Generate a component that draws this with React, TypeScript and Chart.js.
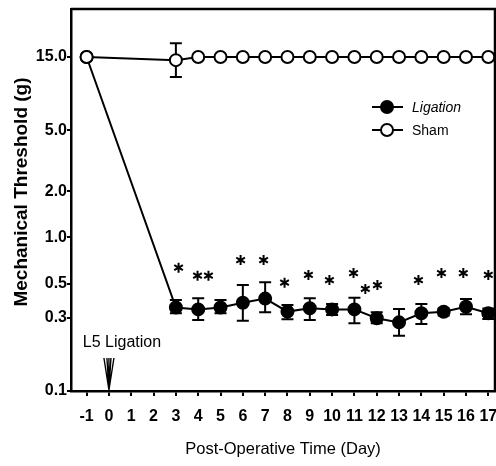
import React, { useEffect, useRef } from 'react';
import { Chart, registerables } from 'chart.js';
Chart.register(...registerables);

// ---- data ----
const days = [-1, 3, 4, 5, 6, 7, 8, 9, 10, 11, 12, 13, 14, 15, 16, 17];
const ligationMean = [15, 0.35, 0.34, 0.35, 0.376, 0.4, 0.329, 0.346, 0.34, 0.34, 0.298, 0.28, 0.321, 0.328, 0.354, 0.321];
const ligationLow = [15, 0.321, 0.29, 0.321, 0.287, 0.326, 0.293, 0.29, 0.313, 0.276, 0.276, 0.229, 0.273, 0.31, 0.316, 0.295];
const ligationHigh = [15, 0.392, 0.402, 0.392, 0.49, 0.511, 0.363, 0.402, 0.369, 0.405, 0.326, 0.342, 0.369, 0.345, 0.398, 0.345];
const shamMean = [15, 14.3, 15, 15, 15, 15, 15, 15, 15, 15, 15, 15, 15, 15, 15, 15];
const shamLow = [15, 11.1, 15, 15, 15, 15, 15, 15, 15, 15, 15, 15, 15, 15, 15, 15];
const shamHigh = [15, 18.4, 15, 15, 15, 15, 15, 15, 15, 15, 15, 15, 15, 15, 15, 15];
const starDays = [3.12, 3.97, 4.46, 5.9, 6.93, 7.87, 8.94, 9.88, 10.96, 11.49, 12.03, 13.87, 14.9, 15.88, 17.0];
const starValues = [0.636, 0.564, 0.564, 0.713, 0.713, 0.508, 0.57, 0.528, 0.587, 0.462, 0.49, 0.528, 0.587, 0.587, 0.57];
const xTicks = [-1, 0, 1, 2, 3, 4, 5, 6, 7, 8, 9, 10, 11, 12, 13, 14, 15, 16, 17];
const yTicks = [0.1, 0.3, 0.5, 1.0, 2.0, 5.0, 15.0];
const ligationDay = 0;
const annotationText = 'L5 Ligation';
const legendLabels = ['Ligation', 'Sham'];
const yTitle = 'Mechanical Threshold (g)';
const xTitle = 'Post-Operative Time (Day)';

const FAMILY = '"Liberation Sans", Arial, sans-serif';

function drawMarker(ctx: CanvasRenderingContext2D, x: number, y: number, filled: boolean) {
  ctx.beginPath();
  ctx.arc(x, y, 6, 0, Math.PI * 2);
  ctx.fillStyle = filled ? '#000' : '#fff';
  ctx.fill();
  ctx.lineWidth = 2;
  ctx.strokeStyle = '#000';
  ctx.stroke();
}

const overlay = {
  id: 'overlay',
  beforeDatasetsDraw(chart: any) {
    const ctx: CanvasRenderingContext2D = chart.ctx;
    const xs = chart.scales.x;
    const ys = chart.scales.y;
    ctx.save();
    ctx.strokeStyle = '#000';
    ctx.lineWidth = 2;
    const bars = (lo: number[], hi: number[]) => {
      for (let i = 0; i < days.length; i++) {
        if (lo[i] === hi[i]) continue;
        const x = xs.getPixelForValue(days[i]);
        const y1 = ys.getPixelForValue(lo[i]);
        const y2 = ys.getPixelForValue(hi[i]);
        ctx.beginPath();
        ctx.moveTo(x, y1); ctx.lineTo(x, y2);
        ctx.moveTo(x - 6, y1); ctx.lineTo(x + 6, y1);
        ctx.moveTo(x - 6, y2); ctx.lineTo(x + 6, y2);
        ctx.stroke();
      }
    };
    bars(ligationLow, ligationHigh);
    bars(shamLow, shamHigh);
    ctx.restore();
  },
  afterDatasetsDraw(chart: any) {
    const ctx: CanvasRenderingContext2D = chart.ctx;
    const xs = chart.scales.x;
    const ys = chart.scales.y;
    const a = chart.chartArea;
    ctx.save();
    // top & right frame
    ctx.strokeStyle = '#000';
    ctx.lineWidth = 2.5;
    ctx.beginPath();
    ctx.moveTo(a.left, a.top);
    ctx.lineTo(a.right, a.top);
    ctx.lineTo(a.right, a.bottom);
    ctx.stroke();

    // asterisks
    ctx.lineWidth = 2;
    for (let i = 0; i < starDays.length; i++) {
      const x = xs.getPixelForValue(starDays[i]);
      const y = ys.getPixelForValue(starValues[i]);
      const r = 5;
      ctx.beginPath();
      for (let k = 0; k < 3; k++) {
        const ang = Math.PI / 2 + (k * Math.PI) / 3;
        ctx.moveTo(x + r * Math.cos(ang), y + r * Math.sin(ang));
        ctx.lineTo(x - r * Math.cos(ang), y - r * Math.sin(ang));
      }
      ctx.stroke();
    }

    // ligation annotation + arrow
    const ax = xs.getPixelForValue(ligationDay);
    const tip = a.bottom - 1;
    ctx.lineWidth = 1.4;
    ctx.beginPath();
    for (const dx of [-5, -2, 0, 2, 5]) {
      ctx.moveTo(ax + dx, tip - 32);
      ctx.lineTo(ax, tip);
    }
    ctx.stroke();
    ctx.fillStyle = '#000';
    ctx.font = `16px ${FAMILY}`;
    ctx.textAlign = 'center';
    ctx.textBaseline = 'alphabetic';
    ctx.fillText(annotationText, ax + 13, tip - 43);

    // y-axis title
    ctx.save();
    ctx.translate(22, 192);
    ctx.rotate(-Math.PI / 2);
    ctx.font = `bold 19px ${FAMILY}`;
    ctx.textAlign = 'center';
    ctx.textBaseline = 'middle';
    ctx.fillText(yTitle, 0, 0);
    ctx.restore();

    // legend
    const lx = 372;
    const entries = [
      { y: 107, filled: true, label: legendLabels[0], italic: true },
      { y: 130, filled: false, label: legendLabels[1], italic: false },
    ];
    for (const e of entries) {
      ctx.strokeStyle = '#000';
      ctx.lineWidth = 2;
      ctx.beginPath();
      ctx.moveTo(lx, e.y);
      ctx.lineTo(lx + 31, e.y);
      ctx.stroke();
      drawMarker(ctx, lx + 15, e.y, e.filled);
      ctx.fillStyle = '#000';
      ctx.font = `${e.italic ? 'italic ' : ''}14px ${FAMILY}`;
      ctx.textAlign = 'left';
      ctx.textBaseline = 'middle';
      ctx.fillText(e.label, lx + 40, e.y + 1);
    }
    ctx.restore();
  },
};

export default function App() {
  const ref = useRef<HTMLCanvasElement>(null);
  useEffect(() => {
    document.body.style.margin = '0';
    const canvas = ref.current!;
    const tickFont = { family: FAMILY, size: 16, weight: 'bold' as const };
    const chart = new Chart(canvas, {
      type: 'line',
      data: {
        datasets: [
          {
            label: legendLabels[1],
            data: days.map((d, i) => ({ x: d, y: shamMean[i] })),
            borderColor: '#000',
            backgroundColor: '#fff',
            pointBackgroundColor: '#fff',
            pointBorderColor: '#000',
            pointRadius: 6,
            pointBorderWidth: 2,
            borderWidth: 2,
            order: 0,
          },
          {
            label: legendLabels[0],
            data: days.map((d, i) => ({ x: d, y: ligationMean[i] })),
            borderColor: '#000',
            backgroundColor: '#000',
            pointBackgroundColor: '#000',
            pointBorderColor: '#000',
            pointRadius: 6,
            pointBorderWidth: 2,
            borderWidth: 2,
            order: 1,
          },
        ],
      },
      options: {
        responsive: false,
        animation: false,
        layout: { autoPadding: false, padding: { top: 9, right: 1, left: 0, bottom: 0 } },
        plugins: { legend: { display: false }, tooltip: { enabled: false } },
        scales: {
          x: {
            type: 'linear',
            min: -1.7,
            max: 17.3,
            afterBuildTicks: (s: any) => { s.ticks = xTicks.map((v) => ({ value: v })); },
            afterFit: (s: any) => { s.height = 75; s.paddingRight = 0; s.paddingLeft = 0; },
            ticks: { font: tickFont, color: '#000', padding: 11, autoSkip: false, maxRotation: 0, callback: (v: any) => String(v) },
            grid: { drawOnChartArea: false, drawTicks: true, tickLength: 5, color: '#000', lineWidth: 2 },
            border: { display: true, color: '#000', width: 2.5 },
            title: { display: true, text: xTitle, font: { family: FAMILY, size: 16.5 }, color: '#000', padding: { top: 0, bottom: 7 } },
          },
          y: {
            type: 'logarithmic',
            min: 0.1,
            max: 30.8,
            afterBuildTicks: (s: any) => { s.ticks = yTicks.map((v) => ({ value: v })); },
            afterFit: (s: any) => { s.width = 71; s.paddingTop = 0; s.paddingBottom = 0; },
            ticks: { font: tickFont, color: '#000', padding: 0, autoSkip: false, callback: (v: any) => Number(v).toFixed(1) },
            grid: { drawOnChartArea: false, drawTicks: true, tickLength: 4, color: '#000', lineWidth: 2 },
            border: { display: true, color: '#000', width: 2.5 },
            title: { display: false },
          },
        },
      },
      plugins: [overlay],
    } as any);
    return () => chart.destroy();
  }, []);
  return (
    <div style={{ position: 'absolute', left: 0, top: 0, width: 496, height: 466 }}>
      <canvas ref={ref} width={496} height={466} style={{ display: 'block' }} />
    </div>
  );
}
